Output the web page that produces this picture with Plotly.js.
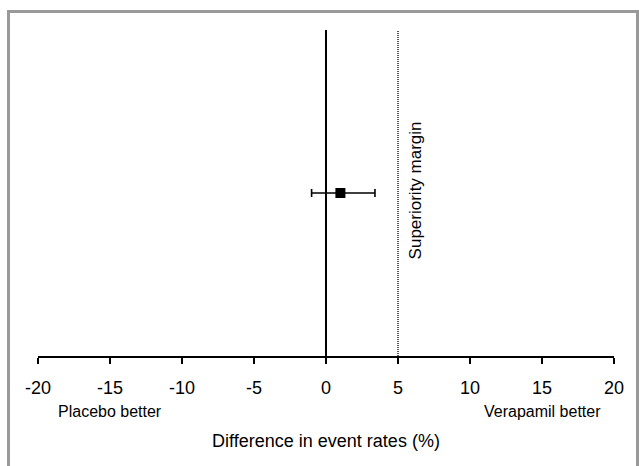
<!DOCTYPE html>
<html>
<head>
<meta charset="utf-8">
<script src="https://cdn.plot.ly/plotly-3.0.1.min.js"></script>
<style>
html,body{margin:0;padding:0;background:#fff;}
#wrap{position:relative;width:639px;height:466px;overflow:hidden;}
#chart{width:639px;height:466px;}
#frame{position:absolute;left:7px;top:10px;width:626px;height:470px;border:3px solid #999;border-bottom:none;pointer-events:none;}
</style>
</head>
<body>
<div id="wrap"><div id="chart"></div><div id="frame"></div></div>
<script>
// Data
const estimateLabel = ["Verapamil vs placebo"];
const estimate = [1.0];
const ciLower = [-1.0];
const ciUpper = [3.4];
const rowPosition = [0.5];
const superiorityMargin = 5;
const tickValues = [-20, -15, -10, -5, 0, 5, 10, 15, 20];
const tickLabels = ["-20", "-15", "-10", "-5", "0", "5", "10", "15", "20"];
const sideLabels = ["Placebo better", "Verapamil better"];
const sidePositions = [-15, 15];

const font = "Liberation Sans, Arial, sans-serif";

const trace = {
  type: "scatter",
  mode: "markers",
  x: estimate,
  y: rowPosition,
  name: estimateLabel[0],
  marker: {symbol: "square", size: 10, color: "#000"},
  error_x: {
    type: "data",
    symmetric: false,
    array: estimate.map((v, i) => ciUpper[i] - v),
    arrayminus: estimate.map((v, i) => v - ciLower[i]),
    color: "#000",
    thickness: 1.6,
    width: 4
  },
  showlegend: false,
  hoverinfo: "x"
};

const layout = {
  width: 639,
  height: 466,
  margin: {l: 38, r: 25, t: 30, b: 110},
  paper_bgcolor: "#fff",
  plot_bgcolor: "#fff",
  font: {family: font, color: "#000"},
  xaxis: {
    range: [-20, 20],
    tickvals: tickValues,
    ticktext: tickLabels,
    ticks: "outside",
    ticklen: 6,
    tickwidth: 1.5,
    tickcolor: "#000",
    showline: true,
    linecolor: "#000",
    linewidth: 2,
    showgrid: false,
    zeroline: false,
    tickfont: {size: 18, family: font, color: "#000"},
    ticklabelstandoff: 8,
    title: {text: "Difference in event rates (%)", font: {size: 18, family: font, color: "#000"}, standoff: 38}
  },
  yaxis: {
    range: [0, 1],
    visible: false,
    showgrid: false,
    zeroline: false,
    fixedrange: true
  },
  shapes: [
    {type: "line", xref: "x", yref: "paper", x0: 0, x1: 0, y0: 0, y1: 1, line: {color: "#000", width: 2}},
    {type: "line", xref: "x", yref: "paper", x0: superiorityMargin, x1: superiorityMargin, y0: 0, y1: 1, line: {color: "#000", width: 1.3, dash: "1px,1px"}}
  ],
  annotations: [
    {x: sidePositions[0], y: 0, xref: "x", yref: "paper", yshift: -55, text: sideLabels[0], showarrow: false, font: {size: 16, family: font, color: "#000"}, xanchor: "center", yanchor: "middle"},
    {x: sidePositions[1], y: 0, xref: "x", yref: "paper", yshift: -55, text: sideLabels[1], showarrow: false, font: {size: 16, family: font, color: "#000"}, xanchor: "center", yanchor: "middle"},
    {x: superiorityMargin, y: 0.508, xref: "x", yref: "paper", xshift: 17, text: "Superiority margin", textangle: -90, showarrow: false, font: {size: 17, family: font, color: "#000"}, xanchor: "center", yanchor: "middle"}
  ]
};

Plotly.newPlot("chart", [trace], layout, {displayModeBar: false, staticPlot: true});
</script>
</body>
</html>
